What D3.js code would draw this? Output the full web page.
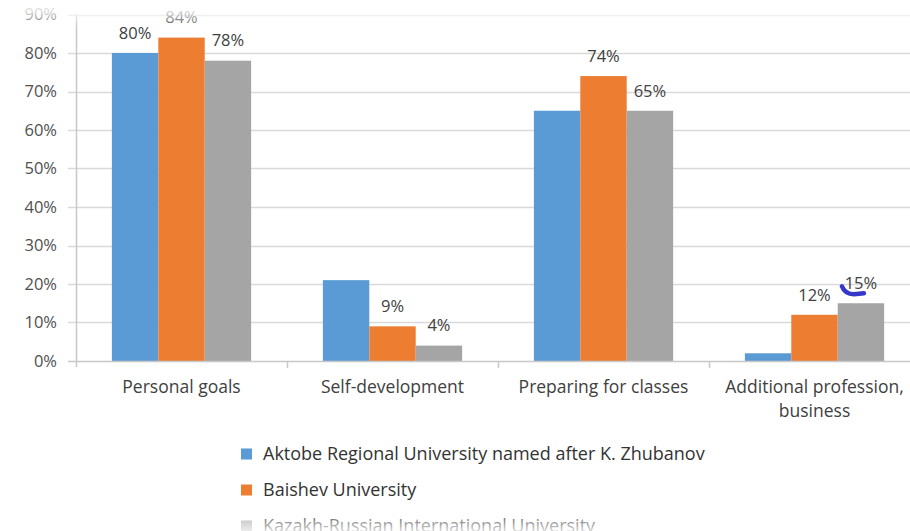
<!DOCTYPE html>
<html>
<head>
<meta charset="utf-8">
<script src="https://cdn.jsdelivr.net/npm/d3@7"></script>
<style>
  body { margin: 0; background: #fff; }
  svg { display: block; }
</style>
</head>
<body>
<div id="chart"></div>
<script>
const categories = ["Personal goals", "Self-development", "Preparing for classes", "Additional profession, business"];
const seriesNames = ["Aktobe Regional University named after K. Zhubanov", "Baishev University", "Kazakh-Russian International University"];
const aktobe = [80, 21, 65, 2];
const baishev = [84, 9, 74, 12];
const kazakh = [78, 4, 65, 15];
const showLabel = [[true, false, false, false], [true, true, true, true], [true, true, true, true]];
const yTicks = [0, 10, 20, 30, 40, 50, 60, 70, 80, 90];
const colors = ["#5b9bd5", "#ed7d31", "#a5a5a5"];

const width = 910, height = 531;
const font = "'Open Sans', 'Noto Sans', sans-serif";

const series = [aktobe, baishev, kazakh];

const svg = d3.select("#chart").append("svg")
    .attr("width", width)
    .attr("height", height);

const x0 = d3.scaleBand().domain(categories).range([76, 920]).padding(0);
const x1 = d3.scaleBand().domain(d3.range(3))
    .range([x0.bandwidth() * 0.17, x0.bandwidth() * 0.83]).padding(0);
const y = d3.scaleLinear().domain([0, 90]).range([361, 14.5]);

// gridlines
svg.append("g").selectAll("line")
    .data(yTicks.filter(t => t > 0))
    .join("line")
    .attr("x1", 68).attr("x2", width)
    .attr("y1", d => Math.round(y(d)) + 0.5).attr("y2", d => Math.round(y(d)) + 0.5)
    .attr("stroke", "#d9d9d9").attr("stroke-width", 1.5);

// y tick labels
svg.append("g").selectAll("text")
    .data(yTicks)
    .join("text")
    .attr("x", 57).attr("y", d => y(d))
    .attr("dy", "0.35em")
    .attr("text-anchor", "end")
    .style("font-family", font).style("font-size", "16.5px")
    .attr("fill", "#505050")
    .text(d => d + "%");

// bars
const groups = svg.append("g").selectAll("g")
    .data(categories)
    .join("g")
    .attr("transform", d => `translate(${x0(d)},0)`);

groups.selectAll("rect")
    .data((c, ci) => series.map((s, si) => ({ si, v: s[ci], ci })))
    .join("rect")
    .attr("x", d => x1(d.si))
    .attr("width", x1.bandwidth())
    .attr("y", d => y(d.v))
    .attr("height", d => y(0) - y(d.v))
    .attr("fill", d => colors[d.si]);

// value labels
groups.selectAll("text")
    .data((c, ci) => series.map((s, si) => ({ si, v: s[ci], ci })).filter(d => showLabel[d.si][d.ci]))
    .join("text")
    .attr("x", d => x1(d.si) + x1.bandwidth() / 2)
    .attr("y", d => y(d.v) - 20)
    .attr("dy", "0.35em")
    .attr("text-anchor", "middle")
    .style("font-family", font).style("font-size", "16.5px")
    .attr("fill", "#404040")
    .text(d => d.v + "%");

// axes
svg.append("line")
    .attr("x1", 76.5).attr("x2", 76.5).attr("y1", 14).attr("y2", 367)
    .attr("stroke", "#c8c8c8").attr("stroke-width", 1.5);
svg.append("line")
    .attr("x1", 68).attr("x2", width).attr("y1", 361.5).attr("y2", 361.5)
    .attr("stroke", "#c8c8c8").attr("stroke-width", 1.5);
svg.append("g").selectAll("line")
    .data(categories)
    .join("line")
    .attr("x1", d => x0(d) + x0.bandwidth() + 0.5).attr("x2", d => x0(d) + x0.bandwidth() + 0.5)
    .attr("y1", 361).attr("y2", 368)
    .attr("stroke", "#c8c8c8").attr("stroke-width", 1.5);

// category labels
const catLines = { "Additional profession, business": ["Additional profession,", "business"] };
svg.append("g").selectAll("text")
    .data(categories)
    .join("text")
    .attr("x", d => x0(d) + x0.bandwidth() / 2)
    .attr("y", 393)
    .attr("text-anchor", "middle")
    .style("font-family", font).style("font-size", "17.5px")
    .attr("fill", "#404040")
    .each(function (d) {
        const lines = catLines[d] || [d];
        d3.select(this).selectAll("tspan")
            .data(lines)
            .join("tspan")
            .attr("x", x0(d) + x0.bandwidth() / 2)
            .attr("dy", (l, i) => i === 0 ? 0 : 24)
            .text(l => l);
    });

// blue pen mark under the 15% label
const markX = x0(categories[3]) + x1(2) + x1.bandwidth() / 2;
const markY = y(kazakh[3]) - 20;
svg.append("path")
    .attr("d", `M${markX - 19},${markY + 3} Q${markX - 16},${markY + 11} ${markX - 7},${markY + 11} L${markX + 3},${markY + 10}`)
    .attr("fill", "none")
    .attr("stroke", "#3538c8")
    .attr("stroke-width", 4.5)
    .attr("stroke-linecap", "round");

// legend
const legend = svg.append("g").selectAll("g")
    .data(seriesNames)
    .join("g")
    .attr("transform", (d, i) => `translate(241, ${454 + i * 36})`);
legend.append("rect")
    .attr("x", 0).attr("y", -5.5)
    .attr("width", 11).attr("height", 11)
    .attr("fill", (d, i) => colors[i]);
legend.append("text")
    .attr("x", 22).attr("y", 0)
    .attr("dy", "0.35em")
    .style("font-family", font).style("font-size", "18px")
    .attr("fill", "#333")
    .text(d => d);

// faded top and bottom edges of the screenshot
const defs = svg.append("defs");
const gTop = defs.append("linearGradient").attr("id", "fadeTop")
    .attr("x1", 0).attr("x2", 0).attr("y1", 0).attr("y2", 1);
gTop.append("stop").attr("offset", 0).attr("stop-color", "#fff").attr("stop-opacity", 0.95);
gTop.append("stop").attr("offset", 0.45).attr("stop-color", "#fff").attr("stop-opacity", 0.75);
gTop.append("stop").attr("offset", 1).attr("stop-color", "#fff").attr("stop-opacity", 0);
const gBot = defs.append("linearGradient").attr("id", "fadeBot")
    .attr("x1", 0).attr("x2", 0).attr("y1", 0).attr("y2", 1);
gBot.append("stop").attr("offset", 0).attr("stop-color", "#fff").attr("stop-opacity", 0);
gBot.append("stop").attr("offset", 1).attr("stop-color", "#fff").attr("stop-opacity", 0.8);

svg.append("rect").attr("x", 0).attr("y", 0).attr("width", width).attr("height", 28)
    .attr("fill", "url(#fadeTop)");
svg.append("rect").attr("x", 0).attr("y", 508).attr("width", width).attr("height", 23)
    .attr("fill", "url(#fadeBot)");
</script>
</body>
</html>
